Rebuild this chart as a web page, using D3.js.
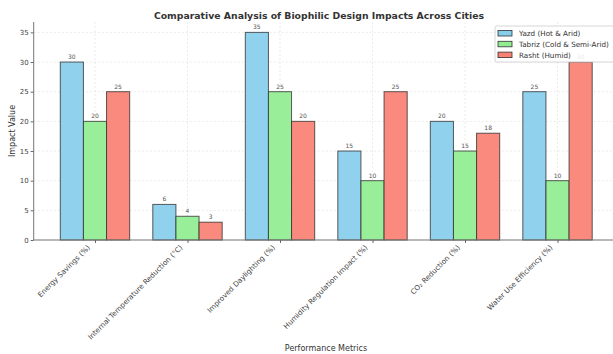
<!DOCTYPE html>
<html><head><meta charset="utf-8">
<script src="https://cdn.jsdelivr.net/npm/d3@7"></script>
<style>body{margin:0;background:#fff}svg{display:block}text{font-family:"DejaVu Sans",sans-serif}</style>
</head><body><svg id="c" width="613" height="354"></svg>
<script>
const categories = ["Energy Savings (%)","Internal Temperature Reduction (°C)","Improved Daylighting (%)","Humidity Regulation Impact (%)","CO₂ Reduction (%)","Water Use Efficiency (%)"];
const seriesNames = ["Yazd (Hot & Arid)","Tabriz (Cold & Semi-Arid)","Rasht (Humid)"];
const yazd = [30,6,35,15,20,25];
const tabriz = [20,4,25,10,15,10];
const rasht = [25,3,20,25,18,30];
const yTicks = [0,5,10,15,20,25,30,35];
const colors = ["#87CEEB","#90EE90","#FA8072"];
const series = [yazd,tabriz,rasht];

const svg = d3.select("#c");
const pL = 33.7, pR = 618.8, pT = 22, pB = 240;
const bw = 0.25;
const x = d3.scaleLinear().domain([-0.6625, 5.6625]).range([pL, pR]);
const y = d3.scaleLinear().domain([0, 36.75]).range([pB, pT]);

// grid
const g = svg.append("g");
g.selectAll(".hg").data(yTicks).join("line")
 .attr("x1",pL).attr("x2",pR).attr("y1",d=>y(d)).attr("y2",d=>y(d))
 .attr("stroke","#ddd").attr("stroke-width",0.6).attr("stroke-dasharray","2,2");
g.selectAll(".vg").data(categories).join("line")
 .attr("x1",(d,i)=>x(i)).attr("x2",(d,i)=>x(i)).attr("y1",pT).attr("y2",pB)
 .attr("stroke","#ddd").attr("stroke-width",0.6).attr("stroke-dasharray","2,2");

// bars
series.forEach((s,k)=>{
  const off = (k-1)*bw;
  svg.append("g").selectAll("rect").data(s).join("rect")
   .attr("x",(d,i)=>x(i+off-bw/2)).attr("width",x(bw)-x(0))
   .attr("y",d=>y(d)).attr("height",d=>y(0)-y(d))
   .attr("fill",colors[k]).attr("fill-opacity",0.92)
   .attr("stroke","#333").attr("stroke-opacity",0.8).attr("stroke-width",1);
  svg.append("g").selectAll("text").data(s).join("text")
   .attr("x",(d,i)=>x(i+off)).attr("y",d=>y(d)-3)
   .attr("text-anchor","middle").attr("font-size",6).attr("fill","#555")
   .text(d=>d);
});

// axes
const ya = d3.axisLeft(y).tickValues(yTicks).tickSize(3).tickPadding(2);
const yg = svg.append("g").attr("transform",`translate(${pL},0)`).call(ya);
yg.select(".domain").remove();
yg.selectAll("line").attr("stroke","#666");
yg.selectAll("text").attr("font-size",7).attr("fill","#444").attr("font-family","DejaVu Sans");
svg.append("line").attr("x1",pL).attr("x2",pL).attr("y1",pT).attr("y2",pB).attr("stroke","#777").attr("stroke-width",1);
svg.append("line").attr("x1",pL).attr("x2",pR).attr("y1",pB).attr("y2",pB).attr("stroke","#777").attr("stroke-width",1);

const xa = d3.axisBottom(x).tickValues(d3.range(categories.length)).tickFormat(i=>categories[i]).tickSize(3).tickPadding(2);
const xg = svg.append("g").attr("transform",`translate(0,${pB})`).call(xa);
xg.select(".domain").remove();
xg.selectAll("line").attr("stroke","#666");
xg.selectAll("text").attr("font-size",7.2).attr("fill","#444").attr("font-family","DejaVu Sans")
  .attr("text-anchor","end").attr("dy",null).attr("y",0).attr("x",0)
  .attr("transform","translate(-5,8) rotate(-45)");

// labels
svg.append("text").attr("x",319).attr("y",19).attr("text-anchor","middle")
 .attr("font-size",9.3).attr("font-weight","bold").attr("fill","#333")
 .text("Comparative Analysis of Biophilic Design Impacts Across Cities");
svg.append("text").attr("x",326).attr("y",351).attr("text-anchor","middle")
 .attr("font-size",8).attr("fill","#333").text("Performance Metrics");
svg.append("text").attr("transform",`translate(15,${(pT+pB)/2}) rotate(-90)`).attr("text-anchor","middle")
 .attr("font-size",8).attr("fill","#333").text("Impact Value");

// legend
const lg = svg.append("g").attr("transform","translate(495,26)");
lg.append("rect").attr("x",0).attr("y",0).attr("width",130).attr("height",36).attr("rx",2)
 .attr("fill","#fff").attr("fill-opacity",0.85).attr("stroke","#ccc").attr("stroke-width",0.8);
seriesNames.forEach((n,k)=>{
  lg.append("rect").attr("x",3).attr("y",4.5+k*10.8).attr("width",14).attr("height",5.5)
   .attr("fill",colors[k]).attr("stroke","#333").attr("stroke-width",0.8);
  lg.append("text").attr("x",24).attr("y",10.2+k*10.8).attr("font-size",7.2).attr("fill","#333").text(n);
});
</script></body></html>
